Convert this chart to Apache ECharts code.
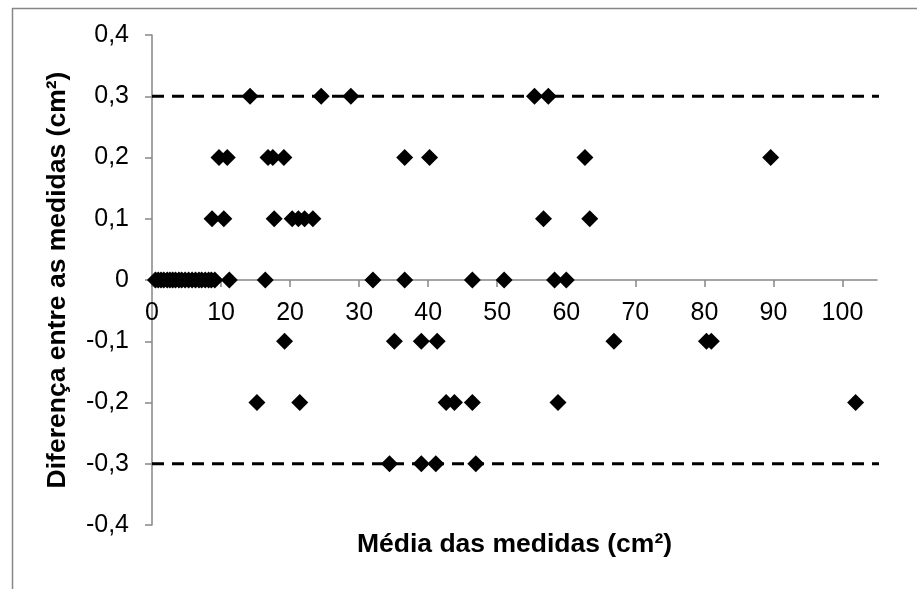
<!DOCTYPE html>
<html>
<head>
<meta charset="utf-8">
<title>Bland-Altman</title>
<script src="https://cdn.jsdelivr.net/npm/echarts@6/dist/echarts.min.js"></script>
<style>
	html, body { margin: 0; padding: 0; background: #fff; }
	#chart { width: 917px; height: 589px; }
</style>
</head>
<body>
<div id="chart"></div>
<script>

	/*
	 * média das medidas (cm²), agrupadas pela diferença entre as medidas
	 */
	var dif03 = [14.2, 24.5, 28.8, 55.4, 57.4];
	var dif02 = [9.7, 10.9, 16.8, 17.5, 19.1, 36.6, 40.2, 62.7, 89.6];
	var dif01 = [8.7, 10.4, 17.7, 20.3, 21.2, 22.1, 23.3, 56.7, 63.4];
	var dif00 = [0.5, 0.9, 1.3, 1.7, 2.2, 2.6, 3.0, 3.4, 3.9, 4.3, 4.8, 5.3, 5.8, 6.3, 6.8, 7.2, 7.7, 8.2, 8.6, 9.1,
	             11.2, 16.4, 32.0, 36.6, 46.4, 51.0, 58.3, 60.0];
	var difM01 = [19.2, 35.1, 39.0, 41.3, 66.9, 80.3, 81.0];
	var difM02 = [15.2, 21.4, 42.6, 43.8, 46.4, 58.8, 101.9];
	var difM03 = [34.4, 39.0, 41.1, 46.9];

	var niveis = [0.3, 0.2, 0.1, 0, -0.1, -0.2, -0.3];
	var grupos = [dif03, dif02, dif01, dif00, difM01, difM02, difM03];

	// limites de concordância (linhas tracejadas)
	var limites = [0.3, -0.3];
	var limiteX = [0, 115];

	var xTicks = [0, 10, 20, 30, 40, 50, 60, 70, 80, 90, 100];

	var font = "Liberation Sans, Arial, sans-serif";
	var axisGray = "#868686";

	// altura da grade: 589 - 35 - 64; o eixo x fica no meio (y = 0)
	var gridTop = 35, gridBottom = 64, gridH = 589 - gridTop - gridBottom;

	function buildPoints() {

		var pts = [];

		grupos.forEach(function(g, i) {
			g.forEach(function(x) {
				pts.push([x, niveis[i]]);
			});
		});

		return pts;

	}

	function buildLimits() {

		return limites.map(function(v) {
			return {
				type: "line",
				data: [[limiteX[0], v], [limiteX[1], v]],
				symbol: "none",
				clip: false,
				silent: true,
				lineStyle: {
					color: "#000",
					width: 3,
					type: [12, 8]
				},
				z: 1
			};
		});

	}

	var ec = echarts.init(document.getElementById("chart"), null, { renderer: "canvas" });

	ec.setOption({
		animation: false,
		backgroundColor: "#fff",
		graphic: [{
			type: "rect",
			left: 10,
			top: 6,
			shape: { width: 1000, height: 1000 },
			style: { fill: "none", stroke: axisGray, lineWidth: 1.5 },
			silent: true
		}],
		grid: {
			left: 152,
			right: 40,
			top: gridTop,
			bottom: gridBottom,
			outerBoundsMode: "none"
		},
		xAxis: {
			type: "value",
			min: 0,
			max: 105,
			interval: 10,
			position: "bottom",
			offset: -gridH / 2,
			name: "Média das medidas (cm²)",
			nameLocation: "middle",
			nameGap: 251,
			nameTextStyle: {
				fontFamily: font,
				fontSize: 26.5,
				fontWeight: "bold",
				color: "#000"
			},
			axisLine: { onZero: false, lineStyle: { color: axisGray, width: 1.5 } },
			axisTick: { show: true, length: 7, lineStyle: { color: axisGray, width: 1.5 } },
			axisLabel: {
				fontFamily: font,
				fontSize: 25,
				color: "#000",
				margin: 21,
				showMaxLabel: false,
				formatter: function(v) {
					return xTicks.indexOf(v) >= 0 ? String(v) : "";
				}
			},
			splitLine: { show: false }
		},
		yAxis: {
			type: "value",
			min: -0.4,
			max: 0.4,
			interval: 0.1,
			name: "Diferença entre as medidas (cm²)",
			nameLocation: "middle",
			nameGap: 81,
			nameRotate: 90,
			nameTextStyle: {
				fontFamily: font,
				fontSize: 26.5,
				fontWeight: "bold",
				color: "#000"
			},
			axisLine: { show: true, onZero: false, lineStyle: { color: axisGray, width: 1.5 } },
			axisTick: { show: true, length: 7, lineStyle: { color: axisGray, width: 1.5 } },
			axisLabel: {
				fontFamily: font,
				fontSize: 25,
				color: "#000",
				margin: 23,
				formatter: function(v) {
					var r = Math.round(v * 10) / 10;
					if (r === 0) return "0";
					return r.toFixed(1).replace(".", ",");
				}
			},
			splitLine: { show: false }
		},
		series: buildLimits().concat([{
			type: "scatter",
			data: buildPoints(),
			symbol: "diamond",
			symbolSize: 17,
			itemStyle: { color: "#000", opacity: 1 },
			z: 3
		}])
	});

</script>
</body>
</html>
